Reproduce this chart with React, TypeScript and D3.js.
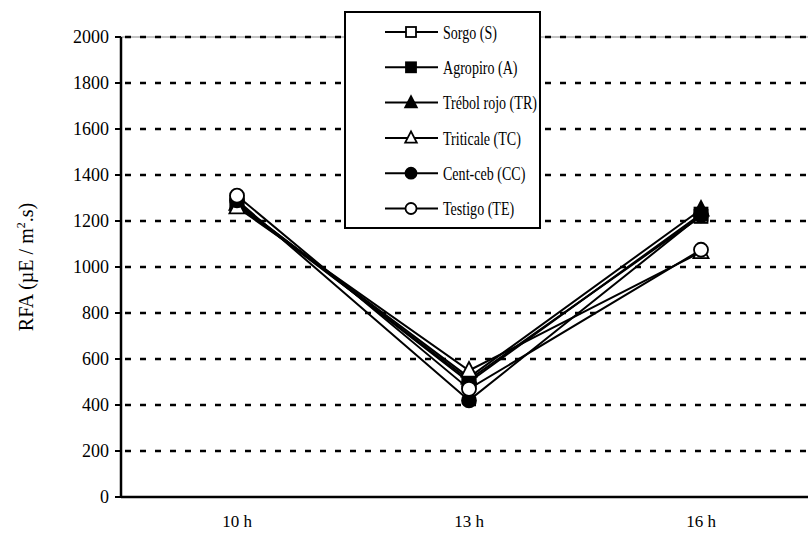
import React from "react";
import * as d3 from "d3";

const categories = ["10 h", "13 h", "16 h"];
const seriesNames = ["Sorgo (S)", "Agropiro (A)", "Trébol rojo (TR)", "Triticale (TC)", "Cent-ceb (CC)", "Testigo (TE)"];
const sorgo = [1270, 510, 1220];
const agropiro = [1280, 500, 1230];
const trebol = [1275, 520, 1250];
const triticale = [1260, 550, 1065];
const centceb = [1290, 420, 1225];
const testigo = [1310, 470, 1075];
const yTicks = [0, 200, 400, 600, 800, 1000, 1200, 1400, 1600, 1800, 2000];

type Marker = "openSquare" | "square" | "triangle" | "openTriangle" | "circle" | "openCircle";
const markers: Marker[] = ["openSquare", "square", "triangle", "openTriangle", "circle", "openCircle"];
const seriesValues = [sorgo, agropiro, trebol, triticale, centceb, testigo];

const W = 808;
const H = 535;
const left = 121;
const top = 37;
const bottom = 497;
const FONT = "'Liberation Serif', 'Times New Roman', serif";

const x = d3.scaleBand<string>().domain(categories).range([left, left + 3 * 232]);
const y = d3.scaleLinear().domain([0, 2000]).range([bottom, top]);

const Symbol = ({ type, cx, cy, s }: { type: Marker; cx: number; cy: number; s: number }) => {
  const open = type.startsWith("open");
  const fill = open ? "#fff" : "#000";
  if (type === "openSquare" || type === "square") {
    return <rect x={cx - s / 2} y={cy - s / 2} width={s} height={s} fill={fill} stroke="#000" strokeWidth={1.8} />;
  }
  if (type === "circle" || type === "openCircle") {
    return <circle cx={cx} cy={cy} r={s / 2 + 0.5} fill={fill} stroke="#000" strokeWidth={1.8} />;
  }
  const h = s * 1.05;
  const p = `M${cx},${cy - h * 0.62} L${cx + s * 0.58},${cy + h * 0.45} L${cx - s * 0.58},${cy + h * 0.45} Z`;
  return <path d={p} fill={fill} stroke="#000" strokeWidth={1.8} strokeLinejoin="miter" />;
};

export default function App() {
  const line = d3
    .line<number>()
    .x((_, i) => (x(categories[i]) as number) + x.bandwidth() / 2)
    .y((d) => y(d));

  const legX = 345;
  const legY = 12;
  const legW = 195;
  const legH = 216;
  const rowY = (i: number) => legY + 20 + i * 35.3;

  return (
    <svg width={W} height={H} style={{ position: "absolute", left: 0, top: 0, fontFamily: FONT }}>
      <rect width={W} height={H} fill="#fff" />
      {/* plot frame top */}
      <line x1={left} x2={W} y1={top} y2={top} stroke="#888" strokeWidth={1} />
      {/* gridlines */}
      {yTicks.slice(1).map((t) => (
        <line key={t} x1={left} x2={W} y1={y(t)} y2={y(t)} stroke="#000" strokeWidth={2.5} strokeDasharray="6 9" strokeDashoffset={-4} />
      ))}
      {/* axes */}
      <line x1={left} x2={left} y1={top} y2={bottom} stroke="#000" strokeWidth={2.5} />
      <line x1={left} x2={W} y1={bottom} y2={bottom} stroke="#000" strokeWidth={2.5} />
      <g fill="#000">
        {yTicks.map((t) => (
          <g key={t}>
            <line x1={left - 6} x2={left} y1={y(t)} y2={y(t)} stroke="#000" strokeWidth={2} />
            <text x={left - 12} y={y(t)} dy="0.36em" textAnchor="end" fontSize={18}>
              {t}
            </text>
          </g>
        ))}
        {categories.map((c) => (
          <text key={c} x={(x(c) as number) + x.bandwidth() / 2} y={527} textAnchor="middle" fontSize={17}>
            {c}
          </text>
        ))}
        <text transform={`translate(33,${(top + bottom) / 2}) rotate(-90)`} textAnchor="middle" fontSize={20}>
          RFA (µE / m<tspan dy={-8} fontSize={12}>2</tspan>
          <tspan dy={8}>.s)</tspan>
        </text>
      </g>
      {/* series */}
      {seriesValues.map((vals, si) => (
        <path key={si} d={line(vals) || ""} fill="none" stroke="#000" strokeWidth={2} />
      ))}
      {seriesValues.map((vals, si) =>
        vals.map((v, i) => (
          <Symbol key={`${si}-${i}`} type={markers[si]} cx={(x(categories[i]) as number) + x.bandwidth() / 2} cy={y(v)} s={13} />
        ))
      )}
      {/* legend */}
      <rect x={legX} y={legY} width={legW} height={legH} fill="#fff" stroke="#000" strokeWidth={2} />
      {seriesNames.map((n, i) => (
        <g key={n}>
          <line x1={385} x2={438} y1={rowY(i)} y2={rowY(i)} stroke="#000" strokeWidth={2} />
          <Symbol type={markers[i]} cx={411} cy={rowY(i)} s={10} />
          <text transform={`translate(443,${rowY(i)}) scale(0.74,1)`} dy="0.36em" fontSize={19}>
            {n}
          </text>
        </g>
      ))}
    </svg>
  );
}
